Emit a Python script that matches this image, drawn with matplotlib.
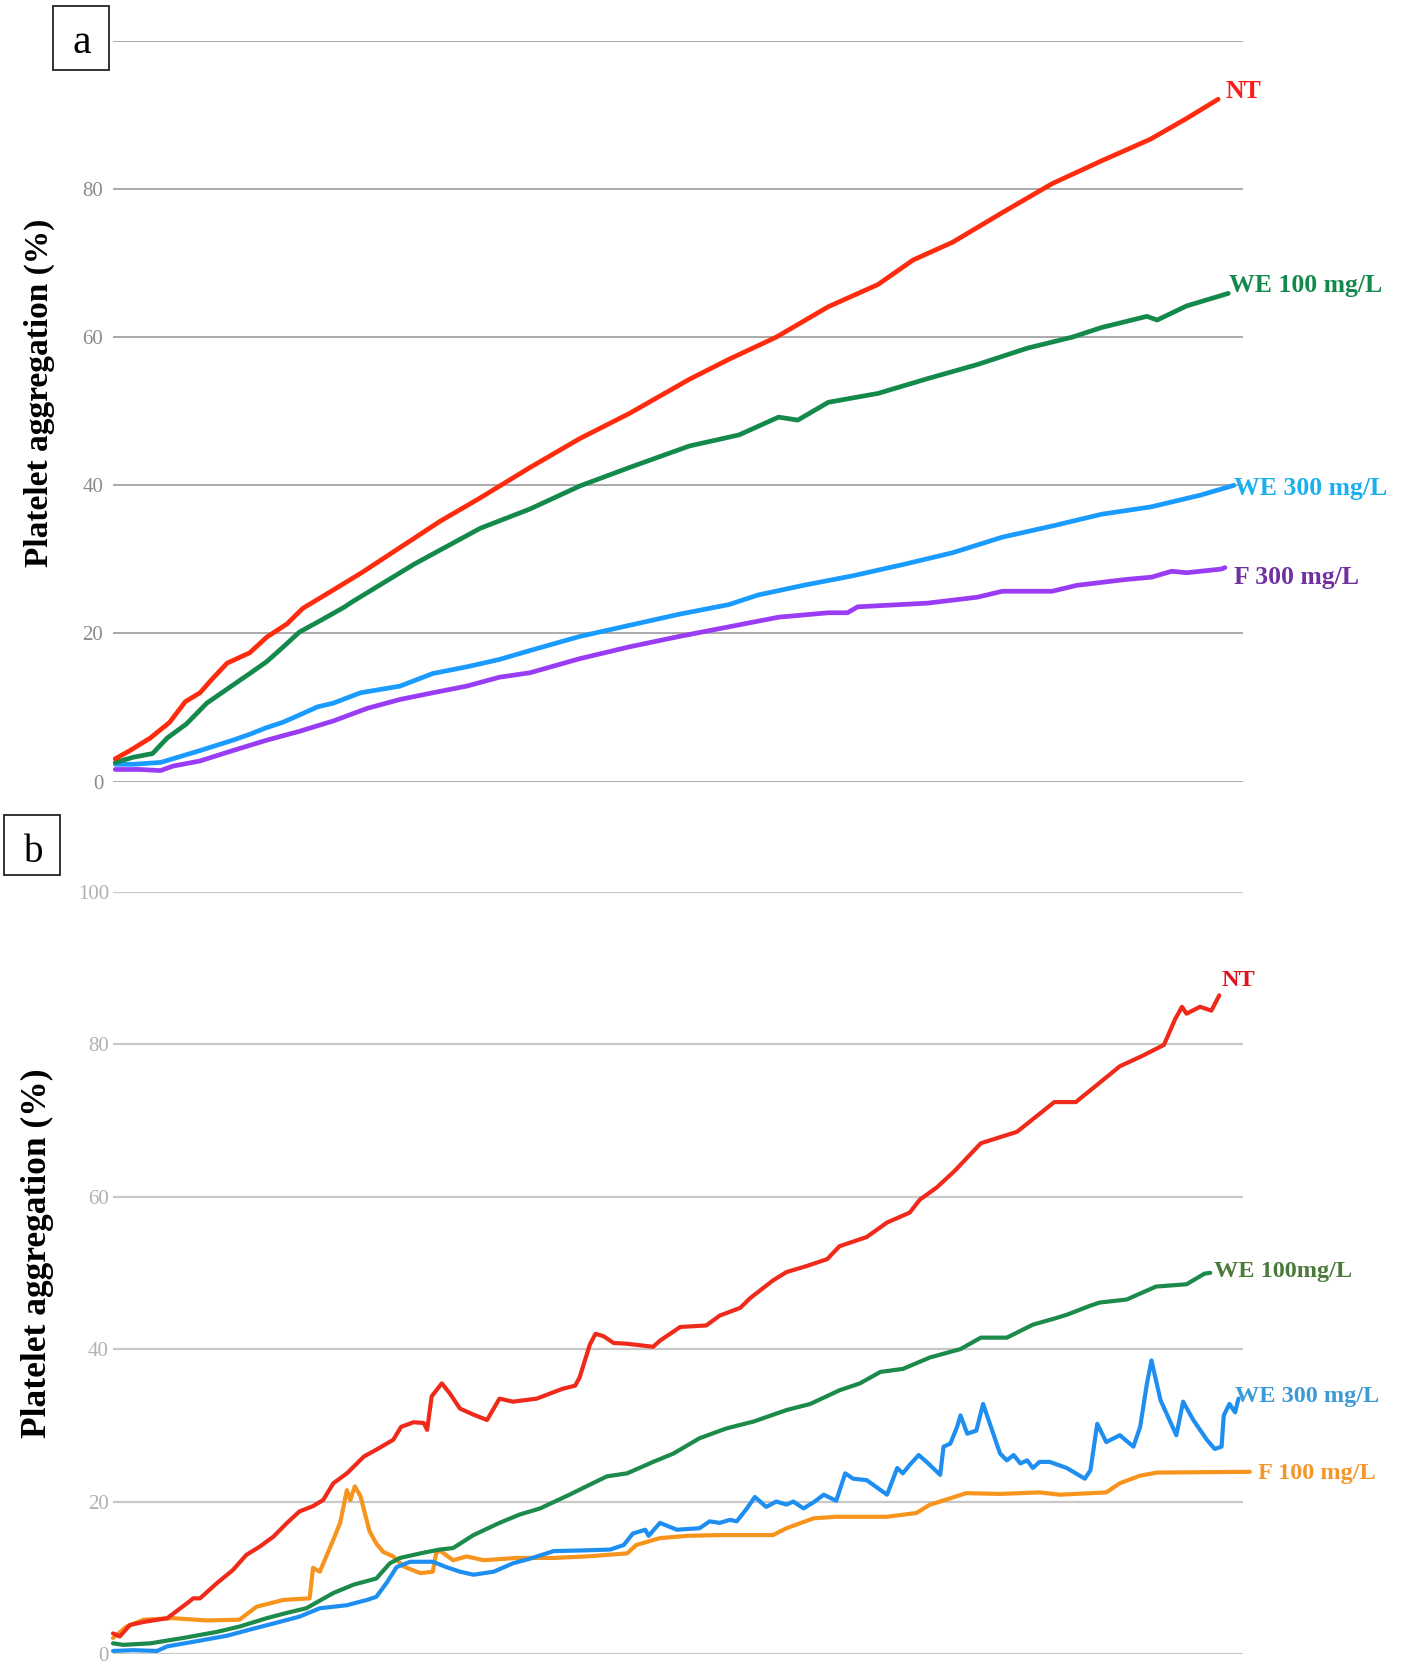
import matplotlib.pyplot as plt
from matplotlib.patches import Rectangle

plt.rcParams['font.family'] = ['Liberation Serif', 'DejaVu Serif']

# ---- panel a: aggregation traces (time in % of recording, aggregation in %) ----
a_nt_t = [0.2, 1.5, 3.3, 5.0, 6.4, 7.7, 8.8, 10.1, 12.1, 13.6, 15.4, 16.8, 19.2, 22.0, 25.8, 29.0,
          32.5, 36.9, 41.3, 45.7, 51.0, 54.5, 58.7, 63.3, 67.7, 70.8, 74.3, 78.7, 83.1, 87.5, 91.8,
          95.0, 97.8]
a_nt_v = [3.1, 4.2, 5.9, 8.0, 10.8, 12.0, 13.9, 16.0, 17.4, 19.5, 21.3, 23.4, 25.6, 28.2, 32.0, 35.2,
          38.3, 42.4, 46.3, 49.7, 54.3, 57.0, 60.0, 64.1, 67.1, 70.4, 72.8, 76.8, 80.7, 83.8, 86.7,
          89.5, 92.1]

a_we100_t = [0.2, 1.8, 3.5, 4.8, 6.5, 8.3, 10.1, 12.1, 13.6, 15.0, 16.5, 18.3, 20.4, 21.2, 26.7,
             32.5, 36.9, 41.3, 45.7, 51.0, 55.4, 58.9, 60.6, 63.3, 67.7, 72.1, 76.5, 80.9, 84.9,
             87.5, 91.5, 92.4, 95.0, 98.7]
a_we100_v = [2.6, 3.3, 3.8, 5.9, 7.8, 10.6, 12.5, 14.6, 16.2, 18.1, 20.2, 21.7, 23.5, 24.3, 29.4,
             34.2, 36.8, 39.9, 42.4, 45.3, 46.8, 49.2, 48.8, 51.2, 52.4, 54.4, 56.3, 58.5, 60.0,
             61.3, 62.8, 62.3, 64.2, 65.9]

a_we300_t = [0.2, 1.8, 4.2, 5.3, 7.7, 10.6, 12.1, 13.6, 15.0, 16.5, 18.1, 19.5, 21.9, 25.4, 28.3,
             31.3, 34.2, 36.9, 41.3, 45.7, 50.1, 54.5, 57.1, 61.1, 65.5, 69.9, 74.3, 78.7, 83.1,
             87.5, 91.9, 96.3, 99.2]
a_we300_v = [2.35, 2.35, 2.6, 3.1, 4.2, 5.6, 6.4, 7.3, 8.0, 9.0, 10.1, 10.6, 12.0, 12.9, 14.6,
             15.5, 16.5, 17.7, 19.6, 21.1, 22.6, 23.9, 25.2, 26.5, 27.8, 29.3, 30.9, 33.0, 34.5,
             36.1, 37.1, 38.7, 40.0]

a_f300_t = [0.2, 2.4, 4.2, 5.3, 7.7, 10.6, 13.6, 16.5, 19.5, 22.5, 25.4, 28.3, 31.3, 34.2, 36.9,
            41.3, 45.7, 50.1, 54.5, 58.9, 63.3, 65.0, 65.9, 72.1, 76.5, 78.7, 83.1, 85.3, 89.7,
            91.9, 93.7, 95.0, 98.1, 98.4]
a_f300_v = [1.65, 1.65, 1.5, 2.1, 2.8, 4.2, 5.6, 6.8, 8.2, 9.9, 11.1, 12.0, 12.9, 14.1, 14.7,
            16.6, 18.2, 19.6, 20.9, 22.2, 22.8, 22.8, 23.6, 24.1, 24.9, 25.7, 25.7, 26.5, 27.3,
            27.6, 28.4, 28.2, 28.7, 28.9]

# ---- panel b ----
b_nt_t = [0.0, 0.6, 1.5, 2.7, 4.8, 6.5, 7.1, 7.7, 9.2, 10.6, 11.8, 13.0, 14.2, 15.4, 16.5, 17.7,
          18.6, 19.5, 20.7, 22.2, 23.3, 24.8, 25.5, 26.6, 27.5, 27.8, 28.2, 29.1, 29.8, 30.7,
          31.9, 33.1, 34.2, 35.4, 37.5, 39.8, 40.9, 41.3, 42.2, 42.7, 43.4, 44.3, 45.5, 47.8,
          48.4, 50.2, 52.5, 53.7, 55.5, 56.4, 58.4, 59.6, 61.4, 63.2, 64.3, 66.7, 68.5, 70.5,
          71.4, 72.9, 74.5, 76.8, 80.0, 83.3, 85.2, 87.2, 89.1, 91.0, 93.0, 94.0, 94.6, 95.0,
          96.2, 97.2, 97.9]
b_nt_v = [2.7, 2.3, 3.8, 4.2, 4.7, 6.6, 7.3, 7.3, 9.3, 11.0, 13.0, 14.1, 15.4, 17.2, 18.7, 19.4,
          20.2, 22.4, 23.7, 25.9, 26.8, 28.1, 29.8, 30.4, 30.3, 29.4, 33.8, 35.5, 34.2, 32.2,
          31.4, 30.7, 33.5, 33.1, 33.5, 34.8, 35.2, 36.3, 40.6, 42.0, 41.7, 40.8, 40.7, 40.3,
          41.1, 42.9, 43.1, 44.4, 45.4, 46.7, 49.0, 50.1, 50.9, 51.8, 53.5, 54.7, 56.6, 57.9,
          59.6, 61.2, 63.4, 67.0, 68.5, 72.4, 72.4, 74.8, 77.1, 78.4, 79.9, 83.3, 84.9, 84.0,
          84.9, 84.4, 86.4]

b_we100_t = [0.0, 0.9, 3.3, 6.2, 9.2, 11.2, 13.6, 15.4, 17.1, 19.5, 21.3, 23.3, 24.5, 25.4, 27.2,
             28.9, 30.1, 31.9, 34.2, 36.0, 37.8, 40.4, 41.9, 43.7, 45.5, 47.8, 49.6, 51.9, 54.3,
             56.7, 59.6, 61.7, 64.3, 66.1, 67.9, 69.9, 72.3, 75.0, 76.8, 79.1, 81.4, 83.3, 84.4,
             86.5, 87.3, 89.7, 92.3, 95.0, 96.6, 97.1]
b_we100_v = [1.4, 1.2, 1.4, 2.1, 2.9, 3.6, 4.7, 5.4, 6.0, 8.0, 9.1, 9.9, 11.9, 12.6, 13.2,
             13.7, 13.9, 15.6, 17.2, 18.3, 19.1, 20.9, 22.0, 23.3, 23.7, 25.2, 26.3, 28.3, 29.6,
             30.5, 32.0, 32.8, 34.6, 35.5, 37.0, 37.4, 38.9, 40.0, 41.5, 41.5, 43.2, 44.0, 44.5,
             45.7, 46.1, 46.5, 48.2, 48.5, 49.9, 50.0]

b_we300_t = [0.0, 1.8, 3.9, 4.8, 7.1, 10.1, 12.1, 14.2, 16.5, 18.3, 20.7, 22.5, 23.3, 24.2, 25.1,
             26.3, 28.3, 29.5, 30.7, 31.9, 33.7, 35.4, 36.9, 39.0, 41.9, 44.0, 45.2, 46.0, 47.1,
             47.4, 48.4, 49.9, 51.9, 52.8, 53.7, 54.6, 55.2, 56.1, 56.8, 57.8, 58.7, 59.6, 60.2,
             61.1, 62.0, 62.9, 64.0, 64.8, 65.5, 66.7, 68.5, 69.4, 69.9, 70.5, 71.3, 72.0, 73.2,
             73.5, 74.1, 74.7, 75.0, 75.6, 76.4, 77.0, 78.5, 79.1, 79.7, 80.3, 80.9, 81.4, 82.0,
             82.9, 84.4, 86.0, 86.5, 87.1, 87.9, 89.1, 90.3, 90.9, 91.5, 91.9, 92.7, 94.1, 94.7,
             95.6, 96.8, 97.5, 98.1, 98.3, 98.8, 99.3, 99.6]
b_we300_v = [0.4, 0.5, 0.4, 1.0, 1.6, 2.4, 3.2, 4.0, 4.9, 6.0, 6.4, 7.1, 7.5, 9.3, 11.4,
             12.1, 12.1, 11.4, 10.8, 10.4, 10.8, 11.9, 12.5, 13.5, 13.6, 13.7, 14.3, 15.8, 16.3,
             15.5, 17.2, 16.3, 16.5, 17.4, 17.2, 17.6, 17.4, 19.1, 20.6, 19.3, 20.0, 19.6, 20.0,
             19.1, 19.9, 20.9, 20.1, 23.7, 23.0, 22.8, 20.9, 24.4, 23.7, 24.8, 26.1, 25.2, 23.5,
             27.2, 27.6, 29.8, 31.3, 28.9, 29.3, 32.8, 26.3, 25.4, 26.1, 25.0, 25.4, 24.4, 25.2,
             25.2, 24.4, 23.0, 24.1, 30.2, 27.8, 28.7, 27.2, 29.8, 35.5, 38.5, 33.3, 28.7, 33.1,
             30.7, 28.1, 26.9, 27.2, 31.3, 32.8, 31.7, 33.5]

b_f100_t = [0.0, 1.2, 2.7, 5.3, 8.3, 11.2, 12.7, 15.1, 17.4, 17.7, 18.3, 19.5, 20.1, 20.7, 21.0,
            21.4, 21.9, 22.7, 23.3, 23.9, 24.8, 25.7, 27.2, 28.3, 28.6, 28.9, 30.1, 31.3, 32.8,
            35.7, 39.0, 41.9, 45.5, 46.3, 48.4, 50.8, 53.7, 58.4, 59.6, 62.0, 64.0, 68.5, 71.1,
            72.3, 73.2, 75.5, 78.5, 82.0, 83.8, 87.9, 89.1, 90.9, 92.4, 100.6]
b_f100_v = [2.1, 3.6, 4.5, 4.7, 4.4, 4.5, 6.2, 7.1, 7.3, 11.3, 10.8, 15.0, 17.2, 21.5, 20.2,
            22.0, 20.7, 16.1, 14.5, 13.4, 12.8, 11.5, 10.6, 10.8, 13.2, 13.6, 12.3, 12.8, 12.3,
            12.6, 12.6, 12.8, 13.2, 14.3, 15.2, 15.5, 15.6, 15.6, 16.5, 17.8, 18.0, 18.0, 18.5,
            19.6, 20.0, 21.1, 21.0, 21.2, 20.9, 21.2, 22.4, 23.4, 23.8, 23.9]

y_grid = [0, 20, 40, 60, 80, 100]
a_tick_labels = ['0', '20', '40', '60', '80', '']
b_tick_labels = ['0', '20', '40', '60', '80', '100']

W, H = 1407, 1661
fig = plt.figure(figsize=(W / 100, H / 100), dpi=100)

ax_a = fig.add_axes([113 / W, 1 - 781.7 / H, 1130 / W, 741 / H])
ax_b = fig.add_axes([113 / W, 1 - 1654 / H, 1130 / W, 762.3 / H])


def style_axes(ax, labels, grid_color, tick_color, grid_lw, pad):
    ax.set_xlim(0, 100)
    ax.set_ylim(0, 100)
    for s in ax.spines.values():
        s.set_visible(False)
    ax.set_xticks([])
    ax.set_yticks(y_grid)
    ax.set_yticklabels(labels)
    ax.tick_params(axis='y', length=0, pad=pad, labelsize=15, labelcolor=tick_color)
    for v in y_grid:
        ax.axhline(v, color=grid_color, lw=grid_lw, zorder=0)
    ax.patch.set_alpha(0)


style_axes(ax_a, a_tick_labels, '#9c9c9c', '#8a8a8a', 1.2, 7)
style_axes(ax_b, b_tick_labels, '#c8c8c8', '#b0b0b0', 1.6, 3)


def trace(ax, t, v, color, lw, label, label_color, dx, dy, size):
    ax.plot(t, v, color=color, lw=lw, clip_on=False, solid_joinstyle='round',
            solid_capstyle='round')
    ax.annotate(label, (t[-1], v[-1]), xytext=(dx * 0.72, dy * 0.72),
                textcoords='offset points', ha='left', va='baseline',
                fontsize=size, fontweight='bold', color=label_color,
                annotation_clip=False)


# panel a
trace(ax_a, a_f300_t, a_f300_v, '#9b3cf5', 3.4, 'F 300 mg/L', '#7030a0', 9, -16, 18.5)
trace(ax_a, a_we300_t, a_we300_v, '#1a9bff', 3.4, 'WE 300 mg/L', '#1ab0ee', 0, -10, 18.5)
trace(ax_a, a_we100_t, a_we100_v, '#138a4c', 3.4, 'WE 100 mg/L', '#138a4c', 1, 1, 18.5)
trace(ax_a, a_nt_t, a_nt_v, '#ff2b0e', 3.4, 'NT', '#ff1a1a', 7, 1, 18.5)

# panel b
trace(ax_b, b_f100_t, b_f100_v, '#f7941d', 3.0, 'F 100 mg/L', '#f5962a', 8.5, -7, 17.5)
trace(ax_b, b_we300_t, b_we300_v, '#1e8ff0', 3.0, 'WE 300 mg/L', '#3d9ad6', -3.5, -3.3, 17.5)
trace(ax_b, b_we100_t, b_we100_v, '#1b8a4a', 3.0, 'WE 100mg/L', '#4b7a3a', 4, -4.4, 17.5)
trace(ax_b, b_nt_t, b_nt_v, '#ef2a1b', 3.0, 'NT', '#e0141e', 2.4, 9.4, 17.5)

# y axis titles
fig.text(39 / W, 1 - 393 / H, 'Platelet aggregation (%)', rotation=90, ha='center', va='center',
         fontsize=24, fontweight='bold')
fig.text(37 / W, 1 - 1253 / H, 'Platelet aggregation (%)', rotation=90, ha='center', va='center',
         fontsize=25.5, fontweight='bold')

# panel letters in boxes
fig.add_artist(Rectangle((53.3 / W, 1 - 70 / H), 56 / W, 64 / H, transform=fig.transFigure,
                         fill=False, ec='#222222', lw=1.3))
fig.text(82 / W, 1 - 52.7 / H, 'a', ha='center', va='baseline', fontsize=30)
fig.add_artist(Rectangle((4.3 / W, 1 - 875 / H), 55.7 / W, 60 / H, transform=fig.transFigure,
                         fill=False, ec='#222222', lw=1.3))
fig.text(34 / W, 1 - 861.7 / H, 'b', ha='center', va='baseline', fontsize=28)

fig.savefig('out.png', dpi=100)
